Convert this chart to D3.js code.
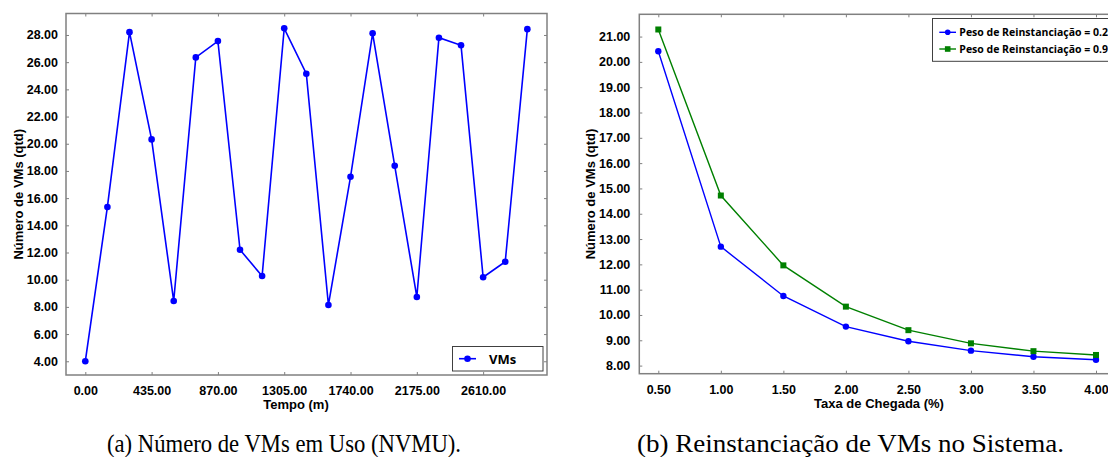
<!DOCTYPE html>
<html><head><meta charset="utf-8">
<script src="https://cdn.jsdelivr.net/npm/d3@7"></script>
<style>body{margin:0;background:#fff;} svg{display:block;}</style>
</head><body>
<svg id="c" width="1108" height="457"></svg>
<script>
// ---- Data: chart (a)
const timeValues = [0,145,290,435,580,725,870,1015,1160,1305,1450,1595,1740,1885,2030,2175,2320,2465,2610,2755,2900];
const vmsValues = [4.0,15.35,28.21,20.32,8.43,26.35,27.55,12.2,10.27,28.49,25.15,8.14,17.57,28.12,18.38,8.73,27.8,27.24,10.18,11.32,28.43];
const xTicksA = [0,435,870,1305,1740,2175,2610];
const yTicksA = [4,6,8,10,12,14,16,18,20,22,24,26,28];
const seriesNameA = "VMs";
// ---- Data: chart (b)
const rateValues = [0.5,1.0,1.5,2.0,2.5,3.0,3.5,4.0];
const weight02Values = [20.42,12.7,10.75,9.54,8.96,8.59,8.35,8.23];
const weight09Values = [21.28,14.72,11.96,10.33,9.4,8.88,8.57,8.42];
const xTicksB = [0.5,1.0,1.5,2.0,2.5,3.0,3.5,4.0];
const yTicksB = [8,9,10,11,12,13,14,15,16,17,18,19,20,21];
const seriesNamesB = ["Peso de Reinstanciação = 0.2","Peso de Reinstanciação = 0.9"];
const captions = ["(a) Número de VMs em Uso (NVMU).","(b) Reinstanciação de VMs no Sistema."];

const svg = d3.select("#c");
const frameCol = "#808080";
const tickFont = "'Liberation Sans', Arial, sans-serif";
const legFont = "'Open Sans', 'Noto Sans', sans-serif";

function drawPanel(o){
  const g = svg.append("g");
  const x = d3.scaleLinear().domain(o.xd).range([o.l, o.r]);
  const y = d3.scaleLinear().domain(o.yd).range([o.b, o.t]);
  const fmt = d3.format(".2f");
  g.append("g").attr("transform",`translate(0,${o.b})`)
    .call(d3.axisBottom(x).tickValues(o.xt).tickFormat(fmt).tickSizeInner(-3).tickSizeOuter(0).tickPadding(11))
    .call(s=>{s.select(".domain").remove(); s.selectAll("line").attr("stroke",frameCol);
      s.selectAll("text").attr("font-family",tickFont).attr("font-weight","bold").attr("font-size","12.5px").attr("fill","#000");});
  g.append("g").attr("transform",`translate(0,${o.t})`)
    .call(d3.axisTop(x).tickValues(o.xt).tickFormat("").tickSizeInner(-3).tickSizeOuter(0))
    .call(s=>{s.select(".domain").remove(); s.selectAll("line").attr("stroke",frameCol);});
  g.append("g").attr("transform",`translate(${o.l},0)`)
    .call(d3.axisLeft(y).tickValues(o.yt).tickFormat(fmt).tickSizeInner(-3).tickSizeOuter(0).tickPadding(o.ypad))
    .call(s=>{s.select(".domain").remove(); s.selectAll("line").attr("stroke",frameCol);
      s.selectAll("text").attr("font-family",tickFont).attr("font-weight","bold").attr("font-size","12.5px").attr("fill","#000");});
  g.append("g").attr("transform",`translate(${o.r},0)`)
    .call(d3.axisRight(y).tickValues(o.yt).tickFormat("").tickSizeInner(-3).tickSizeOuter(0))
    .call(s=>{s.select(".domain").remove(); s.selectAll("line").attr("stroke",frameCol);});
  g.append("rect").attr("x",o.l).attr("y",o.t).attr("width",o.r-o.l).attr("height",o.b-o.t)
    .attr("fill","none").attr("stroke",frameCol).attr("stroke-width",1.5);
  g.append("text").attr("x",o.xtx).attr("y",o.xty).attr("text-anchor","middle")
    .attr("font-family",tickFont).attr("font-weight","bold").attr("font-size","13px").text(o.xtitle);
  g.append("text").attr("transform",`translate(${o.ytx},${(o.t+o.b)/2}) rotate(-90)`).attr("text-anchor","middle")
    .attr("dominant-baseline","central")
    .attr("font-family",tickFont).attr("font-weight","bold").attr("font-size","13px").text(o.ytitle);
  return {g,x,y};
}

// ---- Panel A
const A = drawPanel({l:66,r:547,t:13.5,b:375,xd:[-126.6,3029],yd:[2.99,29.58],xt:xTicksA,yt:yTicksA,ypad:8,
  xtitle:"Tempo (m)",xtx:296,xty:408.5,ytitle:"Número de VMs (qtd)",ytx:18});
const ptsA = timeValues.map((t,i)=>[t,vmsValues[i]]);
A.g.append("path").datum(ptsA).attr("fill","none").attr("stroke","#0000ff").attr("stroke-width",1.6)
  .attr("d",d3.line().x(d=>A.x(d[0])).y(d=>A.y(d[1])));
A.g.selectAll("circle.p").data(ptsA).join("circle").attr("cx",d=>A.x(d[0])).attr("cy",d=>A.y(d[1]))
  .attr("r",3.3).attr("fill","#0000ff");
const la = A.g.append("g");
la.append("rect").attr("x",452.5).attr("y",346.5).attr("width",90.5).attr("height",24.5).attr("fill","#fff").attr("stroke","#404040").attr("stroke-width",1);
la.append("line").attr("x1",459).attr("x2",476).attr("y1",358.7).attr("y2",358.7).attr("stroke","#0000ff").attr("stroke-width",1.6);
la.append("circle").attr("cx",467.5).attr("cy",358.7).attr("r",3.3).attr("fill","#0000ff");
la.append("text").attr("x",489).attr("y",363.5).attr("font-family",legFont).attr("font-weight","bold").attr("font-size","13px").text(seriesNameA);

// ---- Panel B
const B = drawPanel({l:639.3,r:1115,t:14.3,b:373.7,xd:[0.348,4.152],yd:[7.68,21.88],xt:xTicksB,yt:yTicksB,ypad:9,
  xtitle:"Taxa de Chegada (%)",xtx:879,xty:408,ytitle:"Número de VMs (qtd)",ytx:590});
const colors = ["#0000ff","#008000"];
[weight02Values, weight09Values].forEach((vals,k)=>{
  const pts = rateValues.map((r,i)=>[r,vals[i]]);
  B.g.append("path").datum(pts).attr("fill","none").attr("stroke",colors[k]).attr("stroke-width",1.4)
    .attr("d",d3.line().x(d=>B.x(d[0])).y(d=>B.y(d[1])));
  if(k===0){
    B.g.selectAll("circle.s0").data(pts).join("circle").attr("class","s0").attr("cx",d=>B.x(d[0])).attr("cy",d=>B.y(d[1]))
      .attr("r",3.2).attr("fill",colors[k]);
  } else {
    B.g.selectAll("rect.s1").data(pts).join("rect").attr("class","s1").attr("x",d=>B.x(d[0])-3).attr("y",d=>B.y(d[1])-3)
      .attr("width",6).attr("height",6).attr("fill",colors[k]);
  }
});
const lb = B.g.append("g");
lb.append("rect").attr("x",932.5).attr("y",18.5).attr("width",200).attr("height",42.8).attr("fill","#fff").attr("stroke","#404040").attr("stroke-width",1);
[32.3,49].forEach((yy,k)=>{
  lb.append("line").attr("x1",939.3).attr("x2",956).attr("y1",yy).attr("y2",yy).attr("stroke",colors[k]).attr("stroke-width",1.4);
  if(k===0) lb.append("circle").attr("cx",947.7).attr("cy",yy).attr("r",2.8).attr("fill",colors[k]);
  else lb.append("rect").attr("x",944.9).attr("y",yy-2.8).attr("width",5.6).attr("height",5.6).attr("fill",colors[k]);
  lb.append("text").attr("x",959.3).attr("y",yy+3.7).attr("font-family",legFont).attr("font-weight","bold").attr("font-size","10.5px").text(seriesNamesB[k]);
});

// ---- captions
const capX = [[107,461],[637,1064]];
captions.forEach((c,i)=>{
  svg.append("text").attr("x",capX[i][0]).attr("y",451.5).attr("font-family","'Liberation Serif','Times New Roman',serif")
    .attr("font-size","26px").attr("textLength",capX[i][1]-capX[i][0]).attr("lengthAdjust","spacingAndGlyphs").text(c);
});
</script>
</body></html>
